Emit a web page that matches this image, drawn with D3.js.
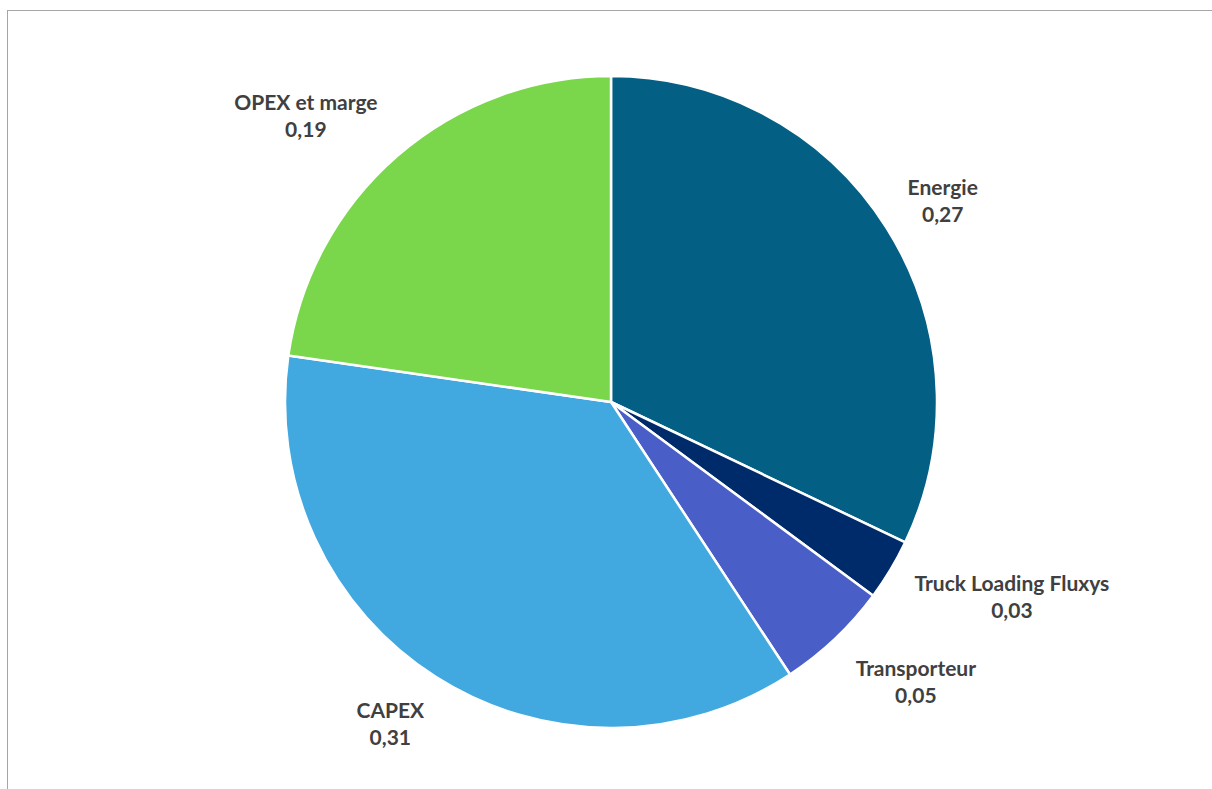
<!DOCTYPE html>
<html>
<head>
<meta charset="utf-8">
<script src="https://cdn.jsdelivr.net/npm/d3@7/dist/d3.min.js"></script>
<style>
  html, body { margin: 0; padding: 0; background: #ffffff; overflow: hidden; }
  svg { display: block; }
</style>
</head>
<body>
<svg id="chart" width="1212" height="789"></svg>
<script>
// ---- Data ----
const categories = ["Energie", "Truck Loading Fluxys", "Transporteur", "CAPEX", "OPEX et marge"];
const values = [0.274, 0.026, 0.048, 0.312, 0.194];
const colors = ["#035F83", "#002B6B", "#4A5EC8", "#42A8E0", "#7AD64A"];

// ---- Layout ----
const W = 1212, H = 789;
const cx = 611, cy = 402, R = 326;
// label placement: distance beyond the slice edge and angular nudge (degrees)
const labelOffset = { "Energie": 62, "Truck Loading Fluxys": 120, "Transporteur": 88, "CAPEX": 64, "OPEX et marge": 92 };
const labelNudge  = { "Energie": 1, "Truck Loading Fluxys": -5, "Transporteur": -4, "CAPEX": 2, "OPEX et marge": -6 };

const svg = d3.select("#chart");

// chart area border (cropped on the right and bottom)
svg.append("rect")
  .attr("x", 7.5).attr("y", 10.5)
  .attr("width", W + 20).attr("height", H + 20)
  .attr("fill", "#ffffff")
  .attr("stroke", "#A6A6A6")
  .attr("stroke-width", 1);

const data = categories.map((c, i) => ({ name: c, value: values[i], color: colors[i] }));

const pie = d3.pie().value(d => d.value).sort(null);
const arcs = pie(data);
const arc = d3.arc().innerRadius(0).outerRadius(R);

const g = svg.append("g").attr("transform", `translate(${cx},${cy})`);

g.selectAll("path.slice")
  .data(arcs)
  .join("path")
  .attr("class", "slice")
  .attr("d", arc)
  .attr("fill", d => d.data.color)
  .attr("stroke", "#ffffff")
  .attr("stroke-width", 2.5)
  .attr("stroke-linejoin", "round");

const fmt = v => d3.format(".2f")(v).replace(".", ",");

const labels = g.selectAll("g.label")
  .data(arcs)
  .join("g")
  .attr("class", "label")
  .attr("transform", d => {
    const a = (d.startAngle + d.endAngle) / 2 + labelNudge[d.data.name] * Math.PI / 180;
    const r = R + labelOffset[d.data.name];
    return `translate(${r * Math.sin(a)},${-r * Math.cos(a)})`;
  });

labels.append("text")
  .attr("text-anchor", "middle")
  .attr("font-family", "Lato, 'Open Sans', sans-serif")
  .attr("font-weight", "bold")
  .attr("font-size", 21)
  .attr("fill", "#404040")
  .selectAll("tspan")
  .data(d => [d.data.name, fmt(d.data.value)])
  .join("tspan")
  .attr("x", 0)
  .attr("y", (t, i) => i === 0 ? -6 : 21)
  .text(t => t);
</script>
</body>
</html>
